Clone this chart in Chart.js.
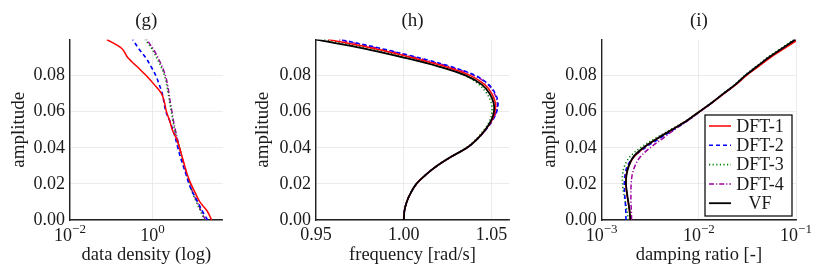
<!DOCTYPE html>
<html>
<head>
<meta charset="utf-8">
<script src="https://cdn.jsdelivr.net/npm/chart.js@4.4.1/dist/chart.umd.min.js"></script>
<style>
    html, body { margin: 0; padding: 0; background: #fff; }
    #wrap { position: relative; width: 823px; height: 275px; }
    .panel { position: absolute; top: 0; height: 275px; }
</style>
</head>
<body>
<div id="wrap">
    <div class="panel" style="left:0px"><canvas id="chartG" width="250" height="275"></canvas></div>
    <div class="panel" style="left:250px"><canvas id="chartH" width="270" height="275"></canvas></div>
    <div class="panel" style="left:520px"><canvas id="chartI" width="303" height="275"></canvas></div>
</div>
<script>
// amplitude levels shared by every curve
const amplitude = [0, 0.005, 0.01, 0.015, 0.02, 0.025, 0.03, 0.035, 0.04, 0.045, 0.05, 0.055, 0.06, 0.065, 0.07, 0.075, 0.08, 0.085, 0.09, 0.095, 0.1];
const seriesNames = ['DFT-1', 'DFT-2', 'DFT-3', 'DFT-4', 'VF'];
const ampTicks = [0, 0.02, 0.04, 0.06, 0.08];

// (g) data density (log)
const densityDFT1 = [27, 21, 14, 10.8, 8.5, 7.0, 6.0, 5.2, 4.5, 3.8, 3.0, 2.6, 2.17, 1.95, 1.65, 1.10, 0.70, 0.42, 0.25, 0.18, 0.078];
const densityDFT2 = [21.5, 16, 12.5, 9.5, 7.6, 6.5, 5.5, 4.7, 4.1, 3.6, 3.1, 2.6, 2.1, 1.9, 1.72, 1.45, 1.2, 0.92, 0.68, 0.46, 0.33];
const densityDFT3 = [18, 14.5, 11.5, 9.3, 7.9, 6.8, 5.9, 5.1, 4.5, 3.9, 3.45, 3.1, 2.85, 2.6, 2.4, 2.2, 1.95, 1.6, 1.25, 0.95, 0.66];
const densityDFT4 = [19, 15, 12, 9.5, 8.0, 6.8, 5.9, 5.1, 4.5, 4.0, 3.55, 3.2, 2.95, 2.7, 2.5, 2.3, 2.05, 1.7, 1.35, 1.02, 0.72];

// (h) frequency [rad/s]
const freqDFT1 = [1.0000, 1.0004, 1.0017, 1.0040, 1.0072, 1.0125, 1.0190, 1.0270, 1.0360, 1.0420, 1.0466, 1.0502, 1.0520, 1.0522, 1.0502, 1.0462, 1.0380, 1.0235, 1.0045, 0.9830, 0.9570];
const freqDFT2 = [1.0000, 1.0004, 1.0017, 1.0040, 1.0072, 1.0125, 1.0190, 1.0270, 1.0360, 1.0421, 1.0468, 1.0505, 1.0530, 1.0537, 1.0522, 1.0485, 1.0410, 1.0268, 1.0082, 0.9872, 0.9640];
const freqDFT3 = [1.0000, 1.0004, 1.0017, 1.0040, 1.0072, 1.0125, 1.0190, 1.0268, 1.0356, 1.0414, 1.0458, 1.0490, 1.0503, 1.0498, 1.0474, 1.0430, 1.0350, 1.0205, 1.0020, 0.9800, 0.9545];
const freqDFT4 = [1.0000, 1.0004, 1.0017, 1.0040, 1.0072, 1.0125, 1.0190, 1.0270, 1.0360, 1.0421, 1.0467, 1.0504, 1.0527, 1.0533, 1.0517, 1.0480, 1.0402, 1.0258, 1.0070, 0.9860, 0.9625];
const freqVF   = [1.0000, 1.0004, 1.0017, 1.0040, 1.0072, 1.0125, 1.0190, 1.0270, 1.0360, 1.0420, 1.0465, 1.0498, 1.0514, 1.0512, 1.0490, 1.0445, 1.0355, 1.0200, 1.0000, 0.9775, 0.9500];

// (i) damping ratio [-]
const dampDFT1 = [0.00196, 0.00193, 0.00187, 0.00181, 0.00177, 0.00179, 0.00190, 0.00215, 0.00270, 0.00370, 0.00530, 0.0075, 0.0102, 0.0137, 0.0181, 0.0241, 0.0308, 0.0410, 0.0545, 0.0755, 0.106];
const dampDFT2 = [0.00178, 0.00177, 0.00175, 0.00172, 0.00171, 0.00174, 0.00184, 0.00214, 0.00280, 0.00390, 0.00545, 0.0076, 0.0102, 0.0137, 0.0180, 0.0238, 0.0302, 0.0400, 0.0530, 0.0730, 0.100];
const dampDFT3 = [0.00188, 0.00182, 0.00175, 0.00168, 0.00164, 0.00164, 0.00172, 0.00195, 0.00250, 0.00350, 0.00510, 0.0074, 0.0100, 0.0135, 0.0177, 0.0233, 0.0295, 0.0388, 0.0508, 0.0700, 0.0950];
const dampDFT4 = [0.00203, 0.00202, 0.00200, 0.00200, 0.00201, 0.00206, 0.00220, 0.00250, 0.00315, 0.00420, 0.00560, 0.0077, 0.0102, 0.0137, 0.0180, 0.0238, 0.0302, 0.0400, 0.0530, 0.0730, 0.100];
const dampVF   = [0.00197, 0.00194, 0.00188, 0.00182, 0.00178, 0.00180, 0.00190, 0.00212, 0.00268, 0.00370, 0.00527, 0.0075, 0.0101, 0.0136, 0.0179, 0.0237, 0.0300, 0.0396, 0.0522, 0.0718, 0.0985];

const colors = ['#ff0000', '#0000ff', '#008000', '#a000a0', '#000000'];
const dashes = [[], [4, 3], [1.2, 2.4], [5, 2, 1.2, 2], []];
const widths = [1.5, 1.6, 1.6, 1.5, 1.8];

const FONT = '"Liberation Serif", "Times New Roman", serif';
Chart.defaults.font.family = FONT;
Chart.defaults.font.size = 18;
Chart.defaults.color = '#1a1a1a';

const toPoints = (xs) => amplitude.map((a, i) => ({ x: xs[i], y: a }));

const makeDatasets = (lists) => lists.map((xs, k) => {
    if (!xs) return null;
    return {
        label: seriesNames[k],
        data: toPoints(xs),
        showLine: true,
        borderColor: colors[k],
        backgroundColor: colors[k],
        borderWidth: widths[k],
        borderDash: dashes[k],
        pointRadius: 0,
        tension: 0.35,
        order: k === 4 ? 0 : k + 1,
    };
}).filter(d => d);

// panel title + power-of-ten tick labels + optional legend
const decor = {
    id: 'decor',
    afterDraw(chart) {
        const ctx = chart.ctx;
        const area = chart.chartArea;
        const o = chart.options.plugins.decor;
        ctx.save();
        ctx.fillStyle = '#1a1a1a';
        ctx.textAlign = 'center';
        ctx.textBaseline = 'alphabetic';
        ctx.font = '19px ' + FONT;
        ctx.fillText(o.title, (area.left + area.right) / 2, 26);

        if (o.logTicks) {
            const xs = chart.scales.x;
            o.logTicks.forEach(v => {
                const px = xs.getPixelForValue(v);
                const exp = String(Math.round(Math.log10(v))).replace('-', '\u2212');
                ctx.font = '18px ' + FONT;
                const bw = ctx.measureText('10').width;
                ctx.font = '13px ' + FONT;
                const ew = ctx.measureText(exp).width;
                const left = px - (bw + ew) / 2;
                ctx.textAlign = 'left';
                ctx.font = '18px ' + FONT;
                ctx.fillText('10', left, 241);
                ctx.font = '13px ' + FONT;
                ctx.fillText(exp, left + bw, 233);
            });
        }

        if (o.legend) {
            const right = area.right - 4, bottom = area.bottom - 4;
            const w = 87, h = 101;
            const x0 = right - w, y0 = bottom - h;
            ctx.fillStyle = '#fff';
            ctx.fillRect(x0, y0, w, h);
            ctx.strokeStyle = '#111';
            ctx.lineWidth = 1.3;
            ctx.setLineDash([]);
            ctx.strokeRect(x0, y0, w, h);
            seriesNames.forEach((name, k) => {
                const cy = y0 + 11 + k * 19.3;
                ctx.beginPath();
                ctx.strokeStyle = colors[k];
                ctx.lineWidth = widths[k];
                ctx.setLineDash(dashes[k]);
                ctx.moveTo(x0 + 4, cy);
                ctx.lineTo(x0 + 26, cy);
                ctx.stroke();
                ctx.setLineDash([]);
                ctx.fillStyle = '#1a1a1a';
                ctx.textAlign = 'center';
                ctx.textBaseline = 'middle';
                ctx.font = '18px ' + FONT;
                ctx.fillText(name, x0 + 55, cy + 1);
            });
        }
        ctx.restore();
    }
};

const gridStyle = { color: '#e6e6e6', lineWidth: 0.8, drawTicks: false };
const borderStyle = { display: true, color: '#222', width: 1.4 };

function makePanel(id, cfg) {
    const xScale = {
        type: cfg.xType,
        min: cfg.xMin,
        max: cfg.xMax,
        grid: gridStyle,
        border: borderStyle,
        afterBuildTicks: (scale) => { scale.ticks = cfg.xTicks.map(v => ({ value: v })); },
        afterFit: (scale) => { scale.height = 55; },
        ticks: cfg.logTicks ? { display: false } : {
            padding: 4,
            autoSkip: false,
            maxRotation: 0,
            callback: (v) => Number(v).toFixed(2),
        },
        title: {
            display: true,
            text: cfg.xTitle,
            font: { size: 18.5, lineHeight: 1.2 },
            padding: { top: 0, bottom: 9 },
        },
    };
    const yScale = {
        type: 'linear',
        min: 0,
        max: 0.1,
        grid: gridStyle,
        border: borderStyle,
        afterBuildTicks: (scale) => { scale.ticks = ampTicks.map(v => ({ value: v })); },
        afterFit: (scale) => { scale.width = cfg.yWidth; },
        ticks: {
            padding: 5,
            autoSkip: false,
            callback: (v) => Number(v).toFixed(2),
        },
        title: {
            display: true,
            text: 'amplitude',
            font: { size: 19, lineHeight: 1.2 },
            padding: { top: cfg.yTitlePad, bottom: 0 },
        },
    };
    return new Chart(document.getElementById(id), {
        type: 'scatter',
        data: { datasets: makeDatasets(cfg.series) },
        options: {
            responsive: false,
            animation: false,
            devicePixelRatio: 1,
            layout: { padding: { top: 39.5, right: cfg.rightPad, left: 0, bottom: 0 } },
            scales: { x: xScale, y: yScale },
            plugins: {
                legend: { display: false },
                tooltip: { enabled: false },
                decor: { title: cfg.title, logTicks: cfg.logTicks, legend: cfg.legend },
            },
        },
        plugins: [decor],
    });
}

makePanel('chartG', {
    title: '(g)',
    xType: 'logarithmic', xMin: 0.01, xMax: 50, xTicks: [0.01, 1], logTicks: [0.01, 1],
    xTitle: 'data density (log)',
    yWidth: 70, yTitlePad: 7.5, rightPad: 27.3,
    series: [densityDFT1, densityDFT2, densityDFT3, densityDFT4, null],
});

makePanel('chartH', {
    title: '(h)',
    xType: 'linear', xMin: 0.95, xMax: 1.06, xTicks: [0.95, 1.0, 1.05],
    xTitle: 'frequency [rad/s]',
    yWidth: 66, yTitlePad: 2, rightPad: 11,
    series: [freqDFT1, freqDFT2, freqDFT3, freqDFT4, freqVF],
});

makePanel('chartI', {
    title: '(i)',
    xType: 'logarithmic', xMin: 0.001, xMax: 0.1, xTicks: [0.001, 0.01, 0.1], logTicks: [0.001, 0.01, 0.1],
    xTitle: 'damping ratio [-]',
    yWidth: 81.7, yTitlePad: 19, rightPad: 27,
    series: [dampDFT1, dampDFT2, dampDFT3, dampDFT4, dampVF],
    legend: true,
});
</script>
</body>
</html>
